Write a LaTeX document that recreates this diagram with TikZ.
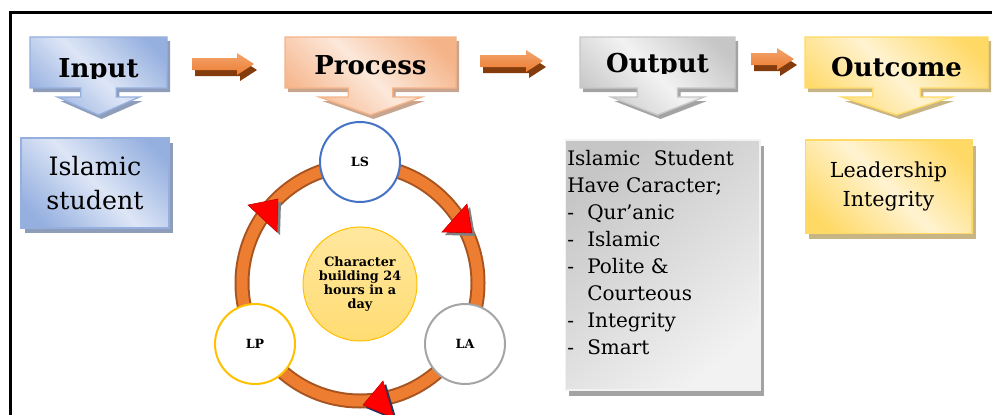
\documentclass[tikz,border=0pt]{standalone}
\usepackage{fontspec}
\setmainfont{DejaVu Serif}
\usetikzlibrary{shadows}

\definecolor{blueL}{HTML}{DDE6F6}
\definecolor{blueD}{HTML}{95AFDF}
\definecolor{blueS}{HTML}{8E9DBA}
\definecolor{orangeL}{HTML}{FCE8DA}
\definecolor{orangeD}{HTML}{F5B388}
\definecolor{orangeS}{HTML}{C8A58E}
\definecolor{grayL}{HTML}{F2F2F2}
\definecolor{grayD}{HTML}{C6C6C6}
\definecolor{grayS}{HTML}{A3A3A3}
\definecolor{yellowL}{HTML}{FFF3D1}
\definecolor{yellowD}{HTML}{FFD966}
\definecolor{yellowS}{HTML}{C8B585}
\definecolor{ring}{HTML}{ED7D31}
\definecolor{ringedge}{HTML}{A85420}
\definecolor{arrowS}{HTML}{843C0C}
\definecolor{lsblue}{HTML}{4472C4}
\definecolor{lagray}{HTML}{A5A5A5}
\definecolor{lpgold}{HTML}{FFC000}
\definecolor{navy}{HTML}{203864}

\pgfdeclarehorizontalshading{blueband}{100bp}{color(0bp)=(blueD); color(22bp)=(blueD); color(50bp)=(blueL); color(78bp)=(blueD); color(100bp)=(blueD)}
\pgfdeclarehorizontalshading{orangeband}{100bp}{color(0bp)=(orangeD); color(22bp)=(orangeD); color(50bp)=(orangeL); color(78bp)=(orangeD); color(100bp)=(orangeD)}
\pgfdeclarehorizontalshading{grayband}{100bp}{color(0bp)=(grayD); color(22bp)=(grayD); color(50bp)=(grayL); color(78bp)=(grayD); color(100bp)=(grayD)}
\pgfdeclarehorizontalshading{yellowband}{100bp}{color(0bp)=(yellowD); color(22bp)=(yellowD); color(50bp)=(yellowL); color(78bp)=(yellowD); color(100bp)=(yellowD)}

\tikzstyle{callout}=[insert path={(\lx,37) -- (\rx,37) -- (\rx,88) -- (\cx+\sw,88) -- (\cx+\sw,97) -- (\cx+\hw,97) -- (\cx,115) -- (\cx-\hw,97) -- (\cx-\sw,97) -- (\cx-\sw,88) -- (\lx,88) -- cycle}]
\tikzstyle{blockarrow}=[insert path={(\tx,\y-6) -- (\hx-17,\y-6) -- (\hx-17,\y-11) -- (\hx,\y) -- (\hx-17,\y+11) -- (\hx-17,\y+6) -- (\tx,\y+6) -- cycle}]
\tikzstyle{title}=[anchor=base, inner sep=0pt, font=\fontsize{19.5}{22}\selectfont\bfseries]
\tikzstyle{box}=[shade, shading angle=45, line width=1pt, align=center]
\tikzstyle{cyc}=[circle, draw, line width=1.5pt, fill=white, minimum size=60pt, font=\fontsize{9.5}{11}\selectfont\bfseries]
\tikzstyle{tri}=[fill=red, draw=red!75!black, line width=0.4pt]

\begin{document}
\begin{tikzpicture}[x=0.75pt, y=-0.75pt]
\useasboundingbox (0,0) rectangle (992,414);
\draw[line width=2.25pt] (10,420) -- (10,12) -- (1000,12);

\foreach \lx/\rx/\base/\col/\txt in {30/167/77/blue/Input, 285/456/74/orange/Process, 580/735/72/gray/Output, 805/988/76/yellow/Outcome}{
  \pgfmathsetmacro\cx{(\lx+\rx)/2}
  \pgfmathsetmacro\sw{0.13*(\rx-\lx)}
  \pgfmathsetmacro\hw{0.3*(\rx-\lx)}
  \shade[drop shadow={shadow xshift=2.25pt, shadow yshift=-3pt, fill=\col S, opacity=1},
         shading=\col band, shading angle=45, draw=\col D, line width=1pt, callout];
  \begin{scope}
    \clip (\lx,37) rectangle (\rx,\base+1);
    \node[title] (\txt) at (\cx,\base) {\txt};
  \end{scope}
}

\foreach \tx/\hx/\y in {192/254/64, 480/543/61, 751/794/59}{
  \fill[arrowS, shift={(3,6)}, blockarrow];
  \shade[top color=ring!70!white, bottom color=ring, blockarrow];
}

\node[box, shading=blueband, draw=blueD, minimum width=111pt, minimum height=67.5pt,
      drop shadow={shadow xshift=3pt, shadow yshift=-4pt, fill=blueS, opacity=1},
      font=\fontsize{19}{26}\selectfont] (student) at (95,183) {Islamic\\student};

\node[left color=grayD, right color=grayL, shading angle=40, draw=grayL, line width=1pt,
      minimum width=146pt, minimum height=187.5pt,
      drop shadow={shadow xshift=3pt, shadow yshift=-4.5pt, fill=grayS, opacity=1}] (outbox) at (662.5,265) {};
\node[anchor=north west, inner sep=0pt, align=left, font=\fontsize{15}{20.25}\selectfont] (traits) at (567,150)
  {\hbox to 125pt{Islamic\hfill Student}\\
   Have Caracter;\\
   \makebox[15pt][l]{-}Qur’anic\\
   \makebox[15pt][l]{-}Islamic\\
   \makebox[15pt][l]{-}Polite \&\\
   \hspace*{15pt}Courteous\\
   \makebox[15pt][l]{-}Integrity\\
   \makebox[15pt][l]{-}Smart};

\node[box, shading=yellowband, draw=yellowD, minimum width=125pt, minimum height=70pt,
      drop shadow={shadow xshift=3pt, shadow yshift=-4.5pt, fill=yellowS, opacity=1},
      font=\fontsize{15.5}{22}\selectfont] (result) at (888.5,186.5) {Leadership\\Integrity};

\draw[ringedge, line width=11.25pt] (360,283) circle[radius=118];
\draw[ring, line width=8.25pt] (360,283) circle[radius=118];

\foreach \ax/\ay/\bx/\by/\px/\py/\sc in {467/204/442/232/472/233/black!50, 248/205/278/199/277/232/black!50, 383/381/363/405/394/418/navy}{
  \fill[\sc, shift={(3,3)}] (\ax,\ay) -- (\bx,\by) -- (\px,\py) -- cycle;
  \filldraw[tri] (\ax,\ay) -- (\bx,\by) -- (\px,\py) -- cycle;
}

\node[cyc, draw=lsblue] (LS) at (360,162) {LS};
\node[cyc, draw=lagray] (LA) at (465,344) {LA};
\node[cyc, draw=lpgold] (LP) at (255,344) {LP};
\node[circle, minimum size=85.5pt, top color=lpgold!38!white, bottom color=lpgold!55!white, draw=lpgold,
      line width=0.75pt, align=center, font=\fontsize{9.6}{10.3}\selectfont\bfseries] (hub) at (360,284)
  {Character\\building 24\\hours in a\\day};
\end{tikzpicture}
\end{document}
